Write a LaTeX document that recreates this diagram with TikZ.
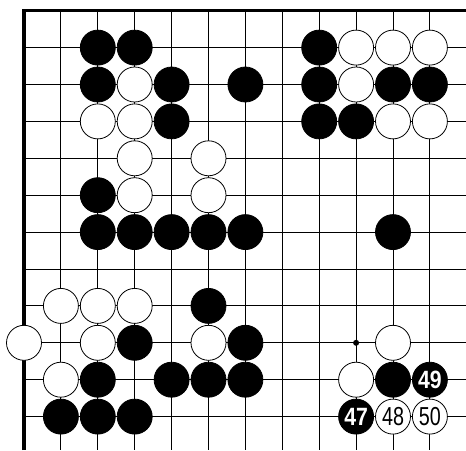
\documentclass[tikz,border=0pt]{standalone}
\usepackage{fontspec}
\setmainfont{Liberation Sans}
\begin{document}
\begin{tikzpicture}[x=1pt,y=-1pt,
 gridline/.style={line width=1pt,black},
 edgeline/.style={line width=3.5pt,black},
 stoneB/.style={circle,fill=black,draw=black,line width=0.8pt,minimum size=35pt,inner sep=0pt,text=white},
 stoneW/.style={circle,fill=white,draw=black,line width=0.8pt,minimum size=35pt,inner sep=0pt,text=black},
 numB/.style={font=\fontsize{25}{25}\selectfont\bfseries},
 numW/.style={font=\fontsize{26}{26}\selectfont},
 hoshi/.style={circle,fill=black,inner sep=0pt,minimum size=6pt}]
\useasboundingbox (0,0) rectangle (466,450);
\def\s{36.9}
\def\ox{24}
\def\oy{10.7}
% grid
\foreach \c in {1,...,11}
  \draw[gridline] ({\ox+\c*\s},\oy) -- ({\ox+\c*\s},450);
\foreach \r in {1,...,11}
  \draw[gridline] (\ox,{\oy+\r*\s}) -- (466,{\oy+\r*\s});
% board edges
\draw[edgeline] (\ox,450) -- (\ox,\oy) -- (466,\oy);
% hoshi
\node[hoshi] (hoshi) at ({\ox+9*\s},{\oy+9*\s}) {};
% black stones
\foreach \c/\r in {2/1,3/1,8/1,
  2/2,4/2,6/2,8/2,10/2,11/2,
  4/3,8/3,9/3,
  2/5,
  2/6,3/6,4/6,5/6,6/6,10/6,
  5/8,
  3/9,6/9,
  2/10,4/10,5/10,6/10,10/10,
  1/11,2/11,3/11}
  \node[stoneB] (b\c-\r) at ({\ox+\c*\s},{\oy+\r*\s}) {};
% white stones
\foreach \c/\r in {9/1,10/1,11/1,
  3/2,9/2,
  2/3,3/3,10/3,11/3,
  3/4,5/4,
  3/5,5/5,
  1/8,2/8,3/8,
  0/9,2/9,5/9,10/9,
  1/10,9/10}
  \node[stoneW] (w\c-\r) at ({\ox+\c*\s},{\oy+\r*\s}) {};
% numbered stones
\node[stoneB,numB] (m49) at ({\ox+11*\s},{\oy+10*\s}) {\scalebox{0.85}[1]{49}};
\node[stoneB,numB] (m47) at ({\ox+9*\s},{\oy+11*\s}) {\scalebox{0.85}[1]{47}};
\node[stoneW,numW] (m48) at ({\ox+10*\s},{\oy+11*\s}) {\scalebox{0.76}[1]{48}};
\node[stoneW,numW] (m50) at ({\ox+11*\s},{\oy+11*\s}) {\scalebox{0.76}[1]{50}};
\end{tikzpicture}
\end{document}
